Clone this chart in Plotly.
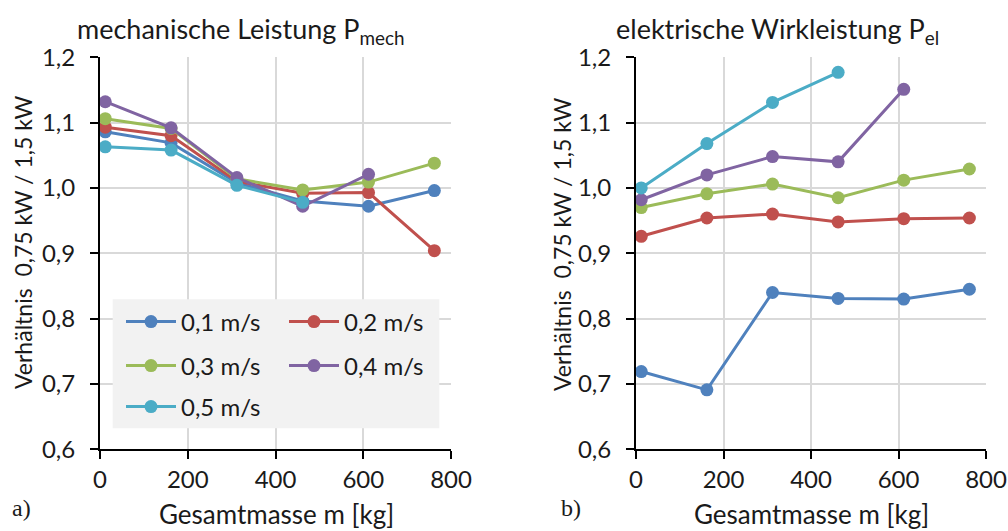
import plotly.graph_objects as go

# ---- data ----
masses = [12, 162, 312, 462, 612, 762]
series_names = ["0,1 m/s", "0,2 m/s", "0,3 m/s", "0,4 m/s", "0,5 m/s"]

mech_01 = [1.086, 1.069, 1.008, 0.980, 0.972, 0.996]
mech_02 = [1.093, 1.080, 1.010, 0.992, 0.993, 0.904]
mech_03 = [1.106, 1.091, 1.014, 0.997, 1.009, 1.038]
mech_04 = [1.132, 1.092, 1.016, 0.972, 1.021, None]
mech_05 = [1.063, 1.058, 1.004, 0.978, None, None]

el_01 = [0.719, 0.691, 0.840, 0.831, 0.830, 0.845]
el_02 = [0.926, 0.954, 0.960, 0.948, 0.953, 0.954]
el_03 = [0.970, 0.991, 1.006, 0.985, 1.012, 1.029]
el_04 = [0.982, 1.020, 1.048, 1.040, 1.151, None]
el_05 = [1.000, 1.068, 1.131, 1.177, None, None]

y_ticks = [0.6, 0.7, 0.8, 0.9, 1.0, 1.1, 1.2]
x_ticks = [0, 200, 400, 600, 800]

colors = ["#4F81BD", "#C0504D", "#9BBB59", "#8064A2", "#4BACC6"]
legend_ids = ["legend", "legend", "legend2", "legend2", "legend3"]

mech = [mech_01, mech_02, mech_03, mech_04, mech_05]
el = [el_01, el_02, el_03, el_04, el_05]

FONT = "Lato"
TXT = "#1a1a1a"
W, H = 1008, 531

def px(x):
    return x / W

def py(y):
    return 1 - y / H

fig = go.Figure()
for name, vals, c, lg in zip(series_names, mech, colors, legend_ids):
    fig.add_trace(go.Scatter(x=masses, y=vals, name=name, mode="lines+markers",
                             line=dict(color=c, width=3), marker=dict(color=c, size=13),
                             cliponaxis=False, xaxis="x", yaxis="y", legend=lg))
for name, vals, c in zip(series_names, el, colors):
    fig.add_trace(go.Scatter(x=masses, y=vals, name=name, mode="lines+markers",
                             line=dict(color=c, width=3), marker=dict(color=c, size=13),
                             cliponaxis=False, xaxis="x2", yaxis="y2", showlegend=False))

ydom = [py(449.3), py(57.3)]
axis_common = dict(showline=True, linecolor="black", linewidth=2, ticks="outside",
                   ticklen=8, tickwidth=2, tickcolor="black", showgrid=True,
                   gridcolor="#d9d9d9", gridwidth=1.5, zeroline=False, automargin=False,
                   tickfont=dict(family=FONT, size=24, color=TXT))

fig.update_layout(
    template="none",
    width=W, height=H, margin=dict(l=0, r=0, t=0, b=0, pad=0), autosize=False,
    paper_bgcolor="white", plot_bgcolor="white", separators=",.",
    font=dict(family=FONT, color=TXT),
    xaxis=dict(domain=[px(100), px(451)], range=[0, 800], tickvals=x_ticks,
               anchor="y", **axis_common),
    yaxis=dict(domain=ydom, range=[0.6, 1.2], tickvals=y_ticks, tickformat=".1f",
               anchor="x", ticklabelstandoff=10, **axis_common),
    xaxis2=dict(domain=[px(636), px(986)], range=[0, 800], tickvals=x_ticks,
                anchor="y2", **axis_common),
    yaxis2=dict(domain=ydom, range=[0.6, 1.2], tickvals=y_ticks, tickformat=".1f",
                anchor="x2", ticklabelstandoff=10, **axis_common),
)

leg_common = dict(orientation="h", xanchor="left", yanchor="middle",
                  bgcolor="rgba(0,0,0,0)", itemwidth=50, entrywidth=98,
                  font=dict(family=FONT, size=24, color=TXT), itemclick=False)
fig.update_layout(
    legend=dict(x=px(121), y=py(322), **leg_common),
    legend2=dict(x=px(121), y=py(366), **leg_common),
    legend3=dict(x=px(121), y=py(407), **leg_common),
)

fig.add_shape(type="rect", xref="paper", yref="paper",
              x0=px(112.7), x1=px(439.3), y0=py(428.3), y1=py(299.3),
              fillcolor="#f2f2f2", line=dict(width=0), layer="above")

NB = "\u00a0"
SERIF = "Liberation Serif"
annotations = [
    dict(x=px(241), y=py(31), text="mechanische Leistung P<sub>mech</sub>", size=27, fam=FONT),
    dict(x=px(777), y=py(31), text="elektrische Wirkleistung P<sub>el</sub>", size=27, fam=FONT),
    dict(x=px(23), y=py(243), text="Verhältnis " + NB + "0,75 kW / 1,5 kW", textangle=-90, size=23, fam=FONT),
    dict(x=px(562), y=py(245), text="Verhältnis " + NB + "0,75 kW / 1,5 kW", textangle=-90, size=23, fam=FONT),
    dict(x=px(276), y=py(514), text="Gesamtmasse m [kg]", size=26, fam=FONT),
    dict(x=px(811), y=py(514), text="Gesamtmasse m [kg]", size=26, fam=FONT),
    dict(x=px(21), y=py(508), text="a)", size=24, fam=SERIF),
    dict(x=px(571), y=py(508), text="b)", size=24, fam=SERIF),
]
for a in annotations:
    size = a.pop("size")
    fam = a.pop("fam")
    fig.add_annotation(xref="paper", yref="paper", showarrow=False,
                       xanchor="center", yanchor="middle",
                       font=dict(family=fam, size=size, color=TXT), **a)

fig.write_html("out.html", config={"displayModeBar": False},
               post_script="document.body.style.margin='0';"
                           "document.documentElement.style.overflow='hidden';")
